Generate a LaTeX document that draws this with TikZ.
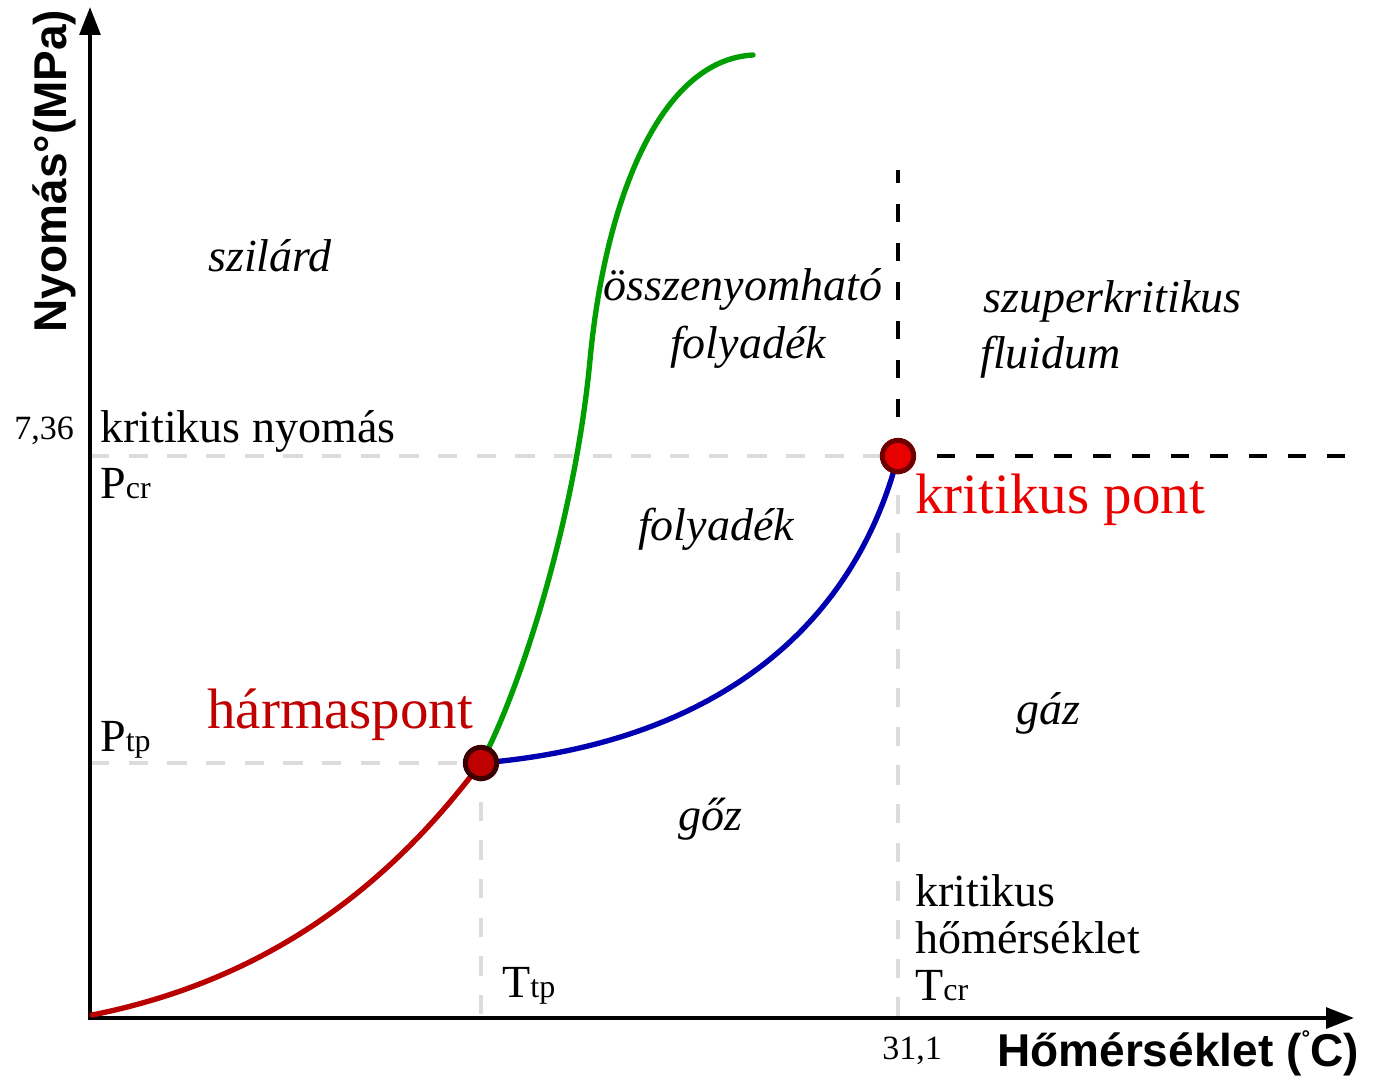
\documentclass[tikz,border=0pt]{standalone}
\usepackage{fontspec}
\setmainfont{Liberation Serif}
\setsansfont{Liberation Sans}
\usetikzlibrary{arrows.meta}
\definecolor{curvered}{RGB}{184,0,0}
\definecolor{curveblue}{RGB}{0,0,176}
\definecolor{curvegreen}{RGB}{0,158,0}
\definecolor{tplabel}{RGB}{192,0,0}
\definecolor{cplabel}{RGB}{235,0,0}
\definecolor{gridgray}{RGB}{220,220,220}
\definecolor{tpfill}{RGB}{190,0,0}
\definecolor{tpedge}{RGB}{60,0,0}
\definecolor{cpfill}{RGB}{230,0,0}
\definecolor{cpedge}{RGB}{110,0,0}
\begin{document}
\begin{tikzpicture}[x=0.75pt,y=-0.75pt,
  axisline/.style={line width=3pt,{Triangle[length=21pt,width=15.5pt]}-{Triangle[length=21pt,width=15.5pt]}},
  curve/.style={line width=4pt,line cap=round},
  guide/.style={line width=3pt,gridgray,dash pattern=on 14.5pt off 14.5pt},
  bound/.style={line width=3pt,black,dash pattern=on 13.5pt off 15.75pt},
  tpdot/.style={circle,draw=tpedge,fill=tpfill,line width=3.75pt,minimum size=23.5pt,inner sep=0pt},
  cpdot/.style={circle,draw=cpedge,fill=cpfill,line width=3.75pt,minimum size=23.5pt,inner sep=0pt},
  lbl/.style={font=\fontsize{34.5}{41}\selectfont,inner sep=0pt},
  region/.style={font=\fontsize{34.5}{41}\selectfont\itshape,inner sep=0pt},
  biglbl/.style={font=\fontsize{42.75}{50}\selectfont,inner sep=0pt},
  num/.style={font=\fontsize{25.5}{30}\selectfont,inner sep=0pt},
  axlabel/.style={font=\fontsize{34.5}{41}\selectfont\sffamily\bfseries,inner sep=0pt}
]
\newcommand{\subtxt}[1]{{\fontsize{24}{24}\selectfont #1}}
\useasboundingbox (0,0) rectangle (1383,1077);
% key coordinates
\coordinate (ax) at (90,1018);
\coordinate (ytip) at (90,7);
\coordinate (xtip) at (1354,1018);
\coordinate (O) at (92,1015);
\coordinate (TP) at (481,763);
\coordinate (CP) at (898,456);
\coordinate (G1) at (590,360);
\coordinate (G2) at (753,55);
\coordinate (vtop) at (898,170);
\coordinate (hend) at (1350,456);
% guides
\draw[guide] (ax |- TP) -- (TP);
\draw[guide] (ax |- CP) -- (CP);
\draw[guide] (TP) -- (TP |- ax);
\draw[guide] (CP) -- (CP |- ax);
\draw[bound] (CP) -- (vtop);
\draw[bound] (CP) -- (hend);
% axes
\draw[axisline] (ytip) -- (ax) -- (xtip);
% curves
\draw[curve,curvered] (O) .. controls (272,979) and (391,883) .. (TP);
\draw[curve,curveblue] (TP) .. controls (700,745) and (850,640) .. (CP);
\draw[curve,curvegreen] (TP) .. controls (520,690) and (575,520) .. (G1)
      .. controls (605,200) and (660,60) .. (G2);
% points
\node[tpdot] (tp) at (TP) {};
\node[cpdot] (cp) at (CP) {};
% axis labels
\node[axlabel,rotate=90,anchor=base] (ylab) at (66,171) {Nyomás°(MPa)};
\node[axlabel,anchor=base west] (xlab) at (997,1066) {Hőmérséklet (\raisebox{0.45em}{\fontsize{16}{16}\selectfont °}C)};
\node[num,anchor=base] (p736) at (44,439) {7,36};
\node[num,anchor=base] (t311) at (912,1059) {31,1};
% left labels
\node[lbl,anchor=base west] (kn) at (100,442) {kritikus nyomás};
\node[lbl,anchor=base west] (pcr) at (100,498) {P\subtxt{cr}};
\node[lbl,anchor=base west] (ptp) at (100,751) {P\subtxt{tp}};
\node[lbl,anchor=base west] (ttp) at (502,997) {T\subtxt{tp}};
\node[lbl,anchor=base west] (kh1) at (915,906) {kritikus};
\node[lbl,anchor=base west] (kh2) at (915,953) {hőmérséklet};
\node[lbl,anchor=base west] (tcr) at (915,1000) {T\subtxt{cr}};
% point labels
\node[biglbl,tplabel,anchor=base west] (tplab) at (207,728) {hármaspont};
\node[biglbl,cplabel,anchor=base west] (cplab) at (915,513) {kritikus pont};
% regions
\node[region,anchor=base] (sz) at (270,271) {szilárd};
\node[region,anchor=base] (ossz) at (743,300) {összenyomható};
\node[region,anchor=base] (foly1) at (748,358) {folyadék};
\node[region,anchor=base west] (szup) at (983,312) {szuperkritikus};
\node[region,anchor=base west] (flu) at (980,368) {fluidum};
\node[region,anchor=base] (foly2) at (716,540) {folyadék};
\node[region,anchor=base] (gaz) at (1048,724) {gáz};
\node[region,anchor=base] (goz) at (710,830) {gőz};
\end{tikzpicture}
\end{document}
